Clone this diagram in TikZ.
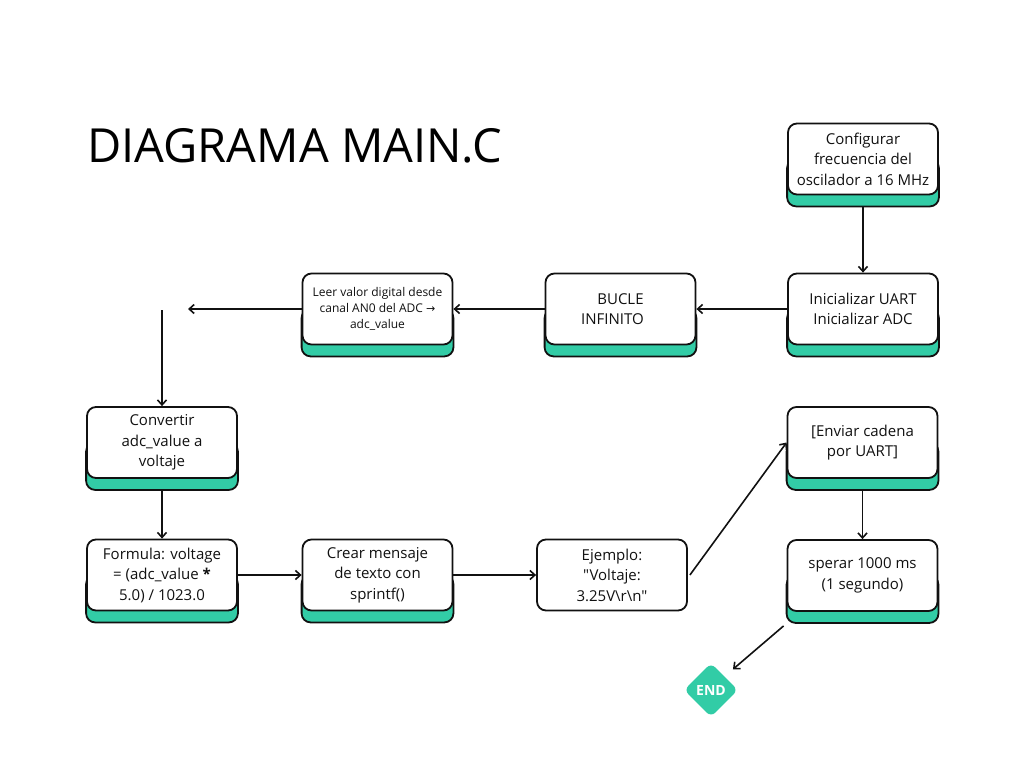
\documentclass[tikz,border=0pt]{standalone}
\usepackage{fontspec}
\newfontfamily\boxfont{Open Sans}
\newfontfamily\arrowfont{DejaVu Sans}
\usetikzlibrary{arrows.meta, positioning, shapes.geometric, backgrounds}
\definecolor{DMTeal}{HTML}{32CCA6}
\definecolor{DMInk}{HTML}{111111}

\begin{document}
\begin{tikzpicture}[
  x=1pt, y=-1pt,
  font=\fontsize{15}{20.5}\selectfont\boxfont,
  >={Straight Barb[length=5pt, width=9pt]},
  box/.style={rectangle, rounded corners=9pt, draw=DMInk, line width=1.8pt,
              fill=white, text=DMInk, align=center, inner sep=3pt,
              minimum width=150pt, minimum height=71pt},
  smallbox/.style={box, font=\fontsize{12}{16}\selectfont\boxfont},
  base/.style={rectangle, rounded corners=9pt, draw=DMInk, line width=1.8pt, fill=DMTeal},
  stopmark/.style={diamond, rounded corners=6pt, fill=DMTeal, text=white, inner sep=0pt,
                   minimum size=54pt, font=\fontsize{14}{16}\selectfont\boxfont\bfseries},
  arr/.style={->, draw=DMInk, line width=1.6pt},
]
\useasboundingbox (0,0) rectangle (1024,768);
\node[anchor=base west, font=\fontsize{47}{50}\selectfont\boxfont] (title) at (84,162) {DIAGRAMA MAIN.C};
\node[box] (cfg) at (863,159) {Configurar\\frecuencia del\\oscilador a 16 MHz};
\node[box] (ini) at (863,309) {Inicializar UART\\Inicializar ADC};
\node[box] (loop) at (620.5,309) {BUCLE\\INFINITO\hspace*{16pt}};
\node[smallbox] (read) at (377.5,309) {Leer valor digital desde\\canal AN0 del ADC {\arrowfont\fontsize{11}{16}\selectfont →}\\adc\_value};
\node[box] (conv) at (162,442.5) {Convertir\\adc\_value a\\voltaje};
\node[box] (form) at (162,575) {Formula: voltage\\= (adc\_value \textbf{*}\\5.0) / 1023.0};
\node[box] (msg) at (377.5,575) {Crear mensaje\\de texto con\\sprintf()};
\node[box] (ejem) at (612,575) {Ejemplo:\\"Voltaje:\\3.25V\textbackslash r\textbackslash n"};
\node[box] (send) at (862.5,442.5) {[Enviar cadena\\por UART]};
\node[box] (wait) at (862.5,575.5) {sperar 1000 ms\\(1 segundo)};
\node[stopmark] (endd) at (711,690) {END};
\coordinate (gap) at (188,309);
\coordinate (turn) at (162,310);
\begin{scope}[on background layer]
  \foreach \n in {cfg, ini, loop, read, conv, form, msg, send, wait}
    \draw[base] (\n.west) rectangle ([yshift=-11pt]\n.south east);
\end{scope}
\draw[arr] ([yshift=-11pt]cfg.south) -- (ini.north);
\draw[arr] (ini.west) -- (loop.east);
\draw[arr] (loop.west) -- (read.east);
\draw[arr] (read.west) -- (gap);
\draw[arr] (turn) -- (conv.north);
\draw[arr] ([yshift=-11pt]conv.south) -- (form.north);
\draw[arr] (form.east) -- (msg.west);
\draw[arr] (msg.east) -- (ejem.west);
\draw[arr] ([xshift=2pt]ejem.east) -- (send.west);
\draw[arr] ([yshift=-11pt]send.south) -- (wait.north);
\draw[arr, shorten >=11pt] ([xshift=-3pt,yshift=-14pt]wait.south west) -- (endd.north east);
\end{tikzpicture}
\end{document}
